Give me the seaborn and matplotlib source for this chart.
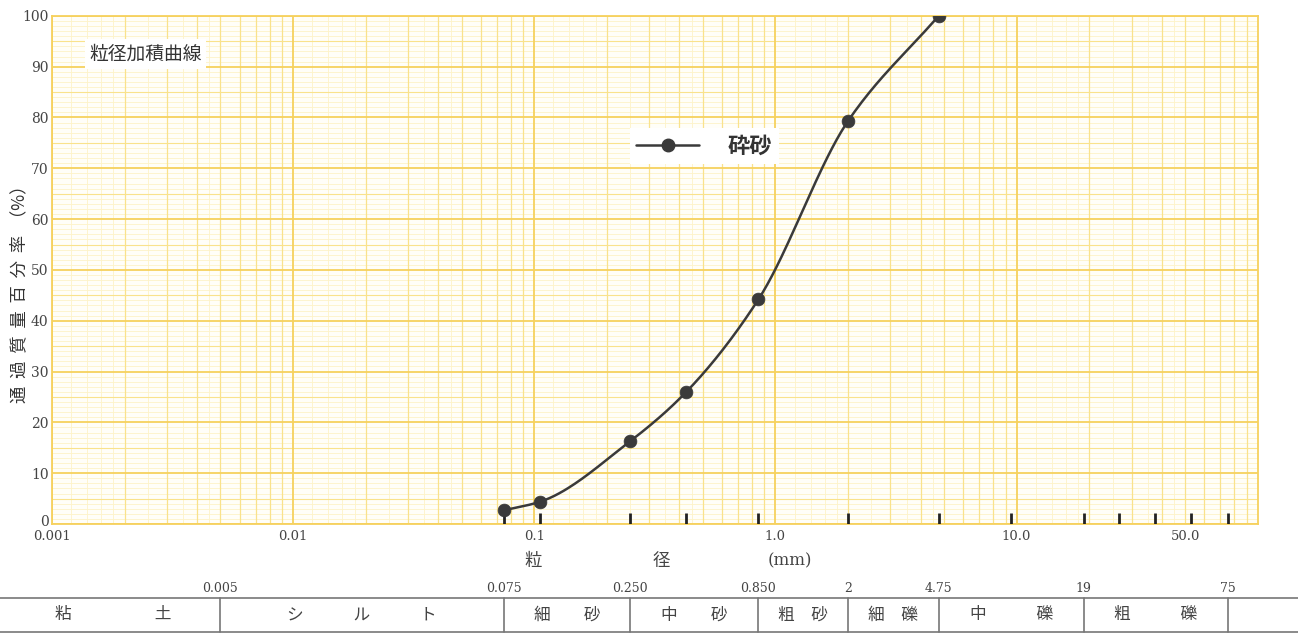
import numpy as np
import pandas as pd
import seaborn as sns
import matplotlib.pyplot as plt
from matplotlib.lines import Line2D
from matplotlib.transforms import blended_transform_factory, ScaledTranslation

sns.set_theme(style="white")
plt.rcParams['font.family'] = ['Noto Sans CJK JP', 'DejaVu Sans']

# ----------------------------
# Data
# ----------------------------
sieve_mm = [0.075, 0.106, 0.25, 0.425, 0.85, 2.0, 4.75]
passing_pct = [2.7, 4.4, 16.3, 25.9, 44.2, 79.3, 100.0]
series_name = "砕砂"

sieve_marks_mm = [0.075, 0.106, 0.25, 0.425, 0.85, 2.0, 4.75, 9.5, 19, 26.5, 37.5, 53, 75]

x_tick_vals = [0.001, 0.01, 0.1, 1.0, 10.0, 50.0]
x_tick_labels = ["0.001", "0.01", "0.1", "1.0", "10.0", "50.0"]
y_tick_vals = list(range(0, 101, 10))

class_bounds = [0.005, 0.075, 0.25, 0.85, 2, 4.75, 19, 75]
bound_labels = ["0.005", "0.075", "0.250", "0.850", "2", "4.75", "19", "75"]
class_names = ["粘　　　　　土", "シ　　　ル　　　ト", "細　　砂", "中　　砂",
               "粗　砂", "細　礫", "中　　　礫", "粗　　　礫"]

# colours of the graph paper
MAJOR = "#F6D15E"
MINOR = "#F9E28C"
FINE = "#FDF3C8"
INK = "#3a3a3a"
TXT = "#444444"
SERIF = "DejaVu Serif"


def monotone_curve(x, y, n=40):
    """Fritsch-Carlson monotone cubic through the points, in log10(x) space."""
    lx = np.log10(np.asarray(x, float))
    y = np.asarray(y, float)
    h = np.diff(lx)
    d = np.diff(y) / h
    m = np.zeros_like(y)
    m[0], m[-1] = d[0], d[-1]
    for i in range(1, len(y) - 1):
        if d[i - 1] * d[i] <= 0:
            m[i] = 0
        else:
            w1 = 2 * h[i] + h[i - 1]
            w2 = h[i] + 2 * h[i - 1]
            m[i] = (w1 + w2) / (w1 / d[i - 1] + w2 / d[i])
    xs, ys = [], []
    t = np.linspace(0, 1, n)
    h00 = 2 * t**3 - 3 * t**2 + 1
    h10 = t**3 - 2 * t**2 + t
    h01 = -2 * t**3 + 3 * t**2
    h11 = t**3 - t**2
    for i in range(len(h)):
        xs.append(lx[i] + t * h[i])
        ys.append(h00 * y[i] + h10 * h[i] * m[i] + h01 * y[i + 1] + h11 * h[i] * m[i + 1])
    return 10 ** np.concatenate(xs), np.concatenate(ys)


df = pd.DataFrame({"size": sieve_mm, "passing": passing_pct})

fig = plt.figure(figsize=(12.98, 6.34), dpi=100)
ax = fig.add_axes([0.040, 0.1735, 0.929, 0.8015])
ax.set_xscale("log")
ax.set_xlim(0.001, 100)
ax.set_ylim(0, 100)
ax.set_facecolor("#FFFEF8")

# graph-paper grid
fine_steps = list(np.arange(1.2, 2.0, 0.2)) + list(np.arange(2.5, 5.0, 0.5))
for dec in [0.001, 0.01, 0.1, 1, 10]:
    for k in fine_steps:
        ax.axvline(dec * k, color=FINE, lw=0.6, zorder=0)
    for k in range(2, 10):
        ax.axvline(dec * k, color=MINOR, lw=0.9, zorder=0.5)
    ax.axvline(dec, color=MAJOR, lw=1.3, zorder=0.6)
for v in range(0, 101):
    if v % 10 == 0:
        ax.axhline(v, color=MAJOR, lw=1.3, zorder=0.6)
    elif v % 5 == 0:
        ax.axhline(v, color=MINOR, lw=0.8, zorder=0.5)
    else:
        ax.axhline(v, color=FINE, lw=0.6, zorder=0)

for s in ax.spines.values():
    s.set_color(MAJOR)
    s.set_linewidth(1.3)

# sieve marks
ax.vlines(sieve_marks_mm, 0, 2.1, color="#222222", lw=2, zorder=3)

# curve
cx, cy = monotone_curve(df["size"], df["passing"])
ax.plot(cx, cy, color=INK, lw=1.8, zorder=4)
sns.scatterplot(data=df, x="size", y="passing", ax=ax, s=85, color=INK,
                edgecolor=INK, linewidth=0.5, zorder=5, legend=False)

# ticks
ax.minorticks_off()
ax.set_xticks(x_tick_vals)
ax.set_xticklabels(x_tick_labels, fontfamily=SERIF, fontsize=9.5, color=TXT)
ax.set_yticks(y_tick_vals)
ax.set_yticklabels([str(v) for v in y_tick_vals], fontfamily=SERIF, fontsize=10, color=TXT)
ax.tick_params(axis="x", length=0, pad=4)
ax.tick_params(axis="y", length=0, pad=2.5)
ax.get_yticklabels()[0].set_transform(
    ax.get_yticklabels()[0].get_transform() + ScaledTranslation(0, 0.04, fig.dpi_scale_trans))
ax.set_xlabel("")
ax.set_ylabel("")
fig.text(19 / 1298, 1 - 290 / 634, "通  過  質  量  百  分  率  （%）", rotation=90,
         fontsize=12.5, color="#333333", ha="center", va="center")

# in-plot labels
ax.text(0.031, 0.925, "粒径加積曲線", transform=ax.transAxes, fontsize=13.5, color="#333333",
        ha="left", va="center", zorder=6,
        bbox=dict(facecolor="white", edgecolor="none", pad=3))
handle = Line2D([], [], color=INK, lw=1.8, marker="o", markersize=9)
leg = ax.legend([handle], [series_name], loc="center left", bbox_to_anchor=(0.47, 0.744),
                frameon=True, fancybox=False, fontsize=16, handlelength=2.8,
                borderpad=0.3, handletextpad=1.3)
leg.get_frame().set_facecolor("white")
leg.get_frame().set_edgecolor("none")
leg.get_frame().set_alpha(1)
leg.set_zorder(6)
for t in leg.get_texts():
    t.set_fontweight("bold")
    t.set_color("#333333")

for xf, txt in [(0.399, "粒"), (0.505, "径")]:
    ax.text(xf, -0.072, txt, transform=ax.transAxes, fontsize=12.5, color=TXT,
            ha="center", va="center")
ax.text(0.612, -0.072, "(mm)", transform=ax.transAxes, fontsize=12, color=TXT,
        fontfamily=SERIF, ha="center", va="center")

# soil classification table under the chart
trans = blended_transform_factory(ax.transData, fig.transFigure)
y_top, y_bot, y_num = 1 - 598 / 634, 1 - 632 / 634, 1 - 588 / 634
for yy in (y_top, y_bot):
    fig.add_artist(Line2D([0, 1], [yy, yy], transform=fig.transFigure, color="#777777", lw=1.2))
for b, lab in zip(class_bounds, bound_labels):
    ax.plot([b, b], [y_bot, y_top], transform=trans, color="#777777", lw=1.2, clip_on=False)
    ax.text(b, y_num, lab, transform=trans, fontfamily=SERIF, fontsize=9, color=TXT,
            ha="center", va="center")
centers = [0.0018] + [np.sqrt(a * b) for a, b in zip(class_bounds[:-1], class_bounds[1:])]
for c, name in zip(centers, class_names):
    ax.text(c, (y_top + y_bot) / 2, name, transform=trans, fontsize=12, color=TXT,
            ha="center", va="center")

fig.savefig("out.png", dpi=100)
